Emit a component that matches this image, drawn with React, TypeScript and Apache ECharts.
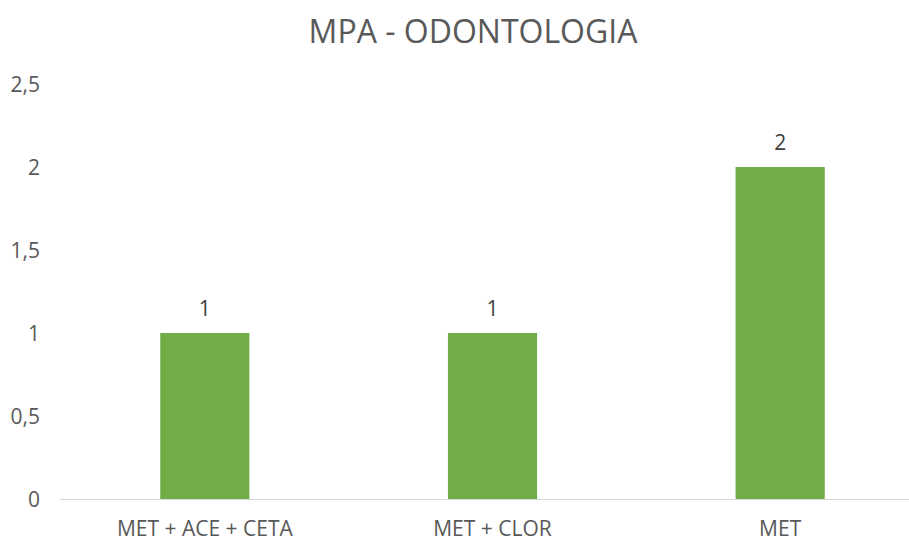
import React, { useEffect, useRef } from "react";
import * as echarts from "echarts";

const categories = ["MET + ACE + CETA", "MET + CLOR", "MET"];
const values = [1, 1, 2];
const titleText = "MPA - ODONTOLOGIA";

export default function App() {
  const ref = useRef<HTMLDivElement>(null);
  useEffect(() => {
    if (!ref.current) return;
    const chart = echarts.init(ref.current, undefined, { renderer: "svg" });
    const font = "'Open Sans', 'Liberation Sans', sans-serif";
    chart.setOption({
      animation: false,
      backgroundColor: "#ffffff",
      title: {
        text: titleText,
        left: 468,
        textAlign: "center",
        top: 9,
        textStyle: { color: "#595959", fontSize: 32, fontWeight: "normal", fontFamily: font },
      },
      grid: { left: 61, right: 1, top: 84, bottom: 42, containLabel: false },
      xAxis: {
        type: "category",
        data: categories,
        axisLine: { lineStyle: { color: "#d9d9d9", width: 1 } },
        axisTick: { show: false },
        axisLabel: { color: "#595959", fontSize: 21, lineHeight: 20, fontFamily: font, margin: 19 },
      },
      yAxis: {
        type: "value",
        min: 0,
        max: 2.5,
        interval: 0.5,
        splitLine: { show: false },
        axisLine: { show: false },
        axisTick: { show: false },
        axisLabel: {
          color: "#595959",
          fontSize: 21,
          fontFamily: font,
          margin: 21,
          formatter: (v: number) => String(v).replace(".", ","),
        },
      },
      series: [
        {
          type: "bar",
          data: values,
          barWidth: "31%",
          itemStyle: { color: "#70AD47" },
          label: {
            show: true,
            position: "top",
            distance: 15,
            color: "#404040",
            fontSize: 21,
            fontFamily: font,
          },
        },
      ],
    });
    return () => chart.dispose();
  }, []);
  return (
    <div style={{ position: "fixed", left: 0, top: 0, width: 909, height: 541, overflow: "hidden" }}>
      <div ref={ref} style={{ width: 925, height: 541 }} />
    </div>
  );
}
